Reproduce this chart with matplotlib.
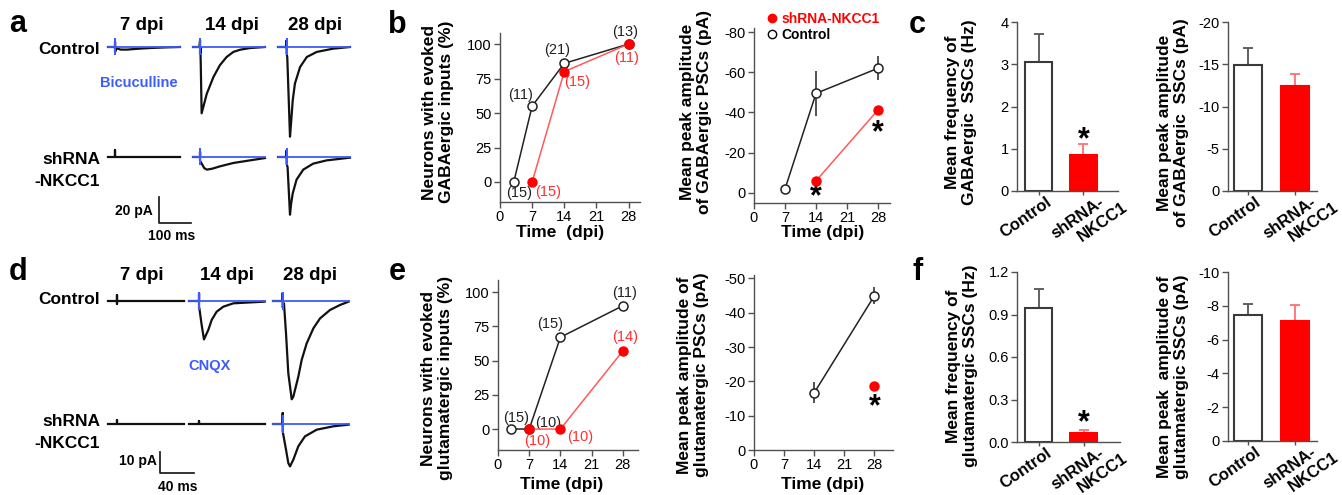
import matplotlib
matplotlib.use('Agg')
import matplotlib.pyplot as plt
from matplotlib.lines import Line2D
import matplotlib.transforms as mtransforms

plt.rcParams['font.family'] = ['Liberation Sans', 'DejaVu Sans']
plt.rcParams['axes.unicode_minus'] = False

# ----------------------------- DATA -----------------------------
# panel a traces (ms, pA) GABAergic
a_t_ctrl7 = [0, 22, 22, 22, 26, 40, 60, 90, 130, 180, 225]
a_i_ctrl7 = [0, 0, 4, -4, -1, -2, -2, -1.4, -0.8, -0.3, 0]
a_t_ctrl14 = [0, 20, 22, 22, 23, 24, 27, 43, 64, 84, 105, 126, 147, 178, 225]
a_i_ctrl14 = [0, 0, 5, -5, 0, -10, -51, -36, -23, -14, -7.7, -3.8, -2.1, -0.8, 0]
a_t_ctrl28 = [0, 27, 27, 27, 29, 37.5, 41, 46, 53, 69, 90, 121, 172, 225]
a_i_ctrl28 = [0, 0, 5, -5, -8, -69, -58, -41, -28, -15.4, -7.7, -3.8, -1.3, 0]
a_t_sh7 = [0, 22, 22, 22, 225]
a_i_sh7 = [0, 0, 5.5, 0, 0]
a_t_sh14 = [0, 22, 22, 22, 27, 35, 43, 60, 84, 126, 178, 225]
a_i_sh14 = [0, 0, 4, -3, -5, -8.5, -9.7, -9, -7.2, -4.6, -2.6, -0.8]
a_t_sh28 = [0, 27, 27, 27, 30, 37.5, 41, 46, 58, 79, 110, 152, 225]
a_i_sh28 = [0, 0, 5, -5, -8, -44.4, -36, -28, -17.4, -9.7, -5.1, -2.6, -0.5]
a_t_blue = [0, 22, 22, 22, 22, 225]
a_t_blue28 = [0, 27, 27, 27, 27, 225]
a_i_blue = [0, 0, 6, -5, 0, 0]

# panel d traces (ms, pA) glutamatergic
d_t_ctrl7 = [0, 10, 10, 10, 10, 89]
d_i_ctrl7 = [0, 0, 3, -1.5, 0, 0]
d_t_ctrl14 = [0, 11.8, 11.8, 11.8, 12.2, 14.9, 17.6, 22.7, 26.7, 32.5, 40.4, 52.2, 89]
d_i_ctrl14 = [0, 0, 3.7, -3.5, -3.5, -11.4, -18.3, -13.8, -9, -5.1, -2.7, -1.1, -0.3]
d_t_ctrl28 = [0, 11.4, 11.4, 11.4, 12.9, 15.3, 18, 22, 23.9, 29.8, 33.7, 39.6, 47.5, 55.3, 67, 78.8, 89]
d_i_ctrl28 = [0, 0, 3.7, -3, -1.1, -15.4, -34.4, -46.8, -45.6, -36, -28.1, -20.2, -13, -8.3, -4.3, -1.9, -0.3]
d_t_sh7 = [0, 10, 10, 10, 89]
d_i_sh7 = [0, 0, 2, 0, 0]
d_t_sh14 = [0, 11.8, 11.8, 11.8, 89]
d_i_sh14 = [0, 0, 1.6, 0, 0]
d_t_sh28 = [0, 11.4, 11.4, 11.4, 15.3, 18, 20, 23.9, 29.8, 37.6, 51.4, 71, 89]
d_i_sh28 = [0, 0, 5.2, -3.5, -12.2, -18.6, -20.2, -17, -10.6, -5.9, -2.7, -1.1, -0.3]
d_t_blue = [0, 11.6, 11.6, 11.6, 11.6, 89]
d_i_blue = [0, 0, 4, -4, 0, 0]

dpi_headers = ['7 dpi', '14 dpi', '28 dpi']

# panel b
time_ctrl_gaba_pct = [3, 7, 14, 28]
ctrl_gaba_pct = [0, 55, 86, 100]
ctrl_gaba_n = ['(15)', '(11)', '(21)', '(13)']
time_sh_gaba_pct = [7, 14, 28]
sh_gaba_pct = [0, 80, 100]
sh_gaba_n = ['(15)', '(15)', '(11)']

time_ctrl_gaba_amp = [7, 14, 28]
ctrl_gaba_amp = [-2, -49.5, -62]
ctrl_gaba_amp_err = [1, 11, 6]
time_sh_gaba_amp = [14, 28]
sh_gaba_amp = [-6, -41.3]
sh_gaba_amp_err = [1, 2]

# panel c
groups = ['Control', 'shRNA-', 'NKCC1']   # second group label is written on two lines
gaba_freq = [3.06, 0.85]
gaba_freq_err = [0.65, 0.26]
gaba_sscamp = [-14.9, -12.4]
gaba_sscamp_err = [2.05, 1.5]

# panel e
time_ctrl_glu_pct = [3, 7, 14, 28]
ctrl_glu_pct = [0, 0, 67, 90]
ctrl_glu_n = ['(15)', '(10)', '(15)', '(11)']
time_sh_glu_pct = [7, 14, 28]
sh_glu_pct = [0, 0, 57]
sh_glu_n = ['(10)', '(10)', '(14)']

time_ctrl_glu_amp = [14, 28]
ctrl_glu_amp = [-16.7, -45]
ctrl_glu_amp_err = [3, 2.5]
time_sh_glu_amp = [28]
sh_glu_amp = [-18.6]
sh_glu_amp_err = [1]

# panel f
glu_freq = [0.948, 0.064]
glu_freq_err = [0.135, 0.018]
glu_sscamp = [-7.44, -7.1]
glu_sscamp_err = [0.65, 0.93]

# ----------------------------- LAYOUT -----------------------------
W, H = 1342, 495
fig = plt.figure(figsize=(W / 100, H / 100), dpi=100)
fig.patch.set_facecolor('white')

RED = '#ff0000'
RED_LINE = '#ff5a5a'
RED_TXT = '#ff3030'
BLUE = '#3d5cff'
SPINE = '#505050'
TICK_FS = 10.5
LAB_FS = 12.5


def px_axes(x0, y0, x1, y1):
    return fig.add_axes([x0 / W, 1 - y1 / H, (x1 - x0) / W, (y1 - y0) / H])


def ftext(x, y, s, **kw):
    return fig.text(x / W, 1 - y / H, s, **kw)


def style(ax):
    for s in ['top', 'right']:
        ax.spines[s].set_visible(False)
    for s in ['left', 'bottom']:
        ax.spines[s].set_color(SPINE)
        ax.spines[s].set_linewidth(1.0)
    ax.tick_params(direction='out', length=4, width=1, color=SPINE,
                   labelsize=TICK_FS, pad=2)
    ax.patch.set_alpha(0)


def trace_axes(x0, base_y, width_px, xmax, ppu, ytop, ybot):
    top = base_y - ytop * ppu
    bot = base_y - ybot * ppu
    ax = px_axes(x0, top, x0 + width_px, bot)
    ax.set_xlim(0, xmax)
    ax.set_ylim(ybot, ytop)
    ax.axis('off')
    return ax

# ---------------- panel a ----------------
ftext(18, 24, 'a', fontsize=22, fontweight='bold', ha='center', va='center')
for cx, s in zip([142, 232, 315], dpi_headers):
    ftext(cx, 25, s, fontsize=13.5, fontweight='bold', ha='center', va='center')
ftext(100, 50, 'Control', fontsize=12.5, fontweight='bold', ha='right', va='center')
ftext(100, 159, 'shRNA', fontsize=12.5, fontweight='bold', ha='right', va='center')
ftext(100, 182, '-NKCC1', fontsize=12.5, fontweight='bold', ha='right', va='center')
ftext(139, 83, 'Bicuculline', fontsize=10.5, fontweight='bold', color=BLUE,
      ha='center', va='center')

a_cols = [108, 193, 278]
a_ctrl = [(a_t_ctrl7, a_i_ctrl7, a_t_blue), (a_t_ctrl14, a_i_ctrl14, a_t_blue),
          (a_t_ctrl28, a_i_ctrl28, a_t_blue28)]
a_sh = [(a_t_sh7, a_i_sh7, None), (a_t_sh14, a_i_sh14, a_t_blue),
        (a_t_sh28, a_i_sh28, a_t_blue28)]
for x0, (t, i, tb) in zip(a_cols, a_ctrl):
    ax = trace_axes(x0, 47, 72, 225, 1.3, 10, -75)
    ax.plot(t, i, color='#111111', lw=1.6, clip_on=False)
    ax.plot(tb, a_i_blue, color=BLUE, lw=1.3, clip_on=False)
for k, (x0, (t, i, tb)) in enumerate(zip(a_cols, a_sh)):
    ax = trace_axes(x0, 157, 72, 225, 1.3, 10, -75)
    ax.plot(t, i, color='#111111', lw=1.6, clip_on=False)
    if tb is not None:
        ax.plot(tb, a_i_blue, color=BLUE, lw=1.3, clip_on=False)
    if k == 0:
        # scale bar 20 pA / 100 ms
        ax.plot([159, 159, 259], [-30.8, -50.8, -50.8], color='#111111', lw=1.2,
                clip_on=False)
ftext(153, 211, '20 pA', fontsize=10, fontweight='bold', ha='right', va='center')
ftext(172, 236, '100 ms', fontsize=10, fontweight='bold', ha='center', va='center')

# ---------------- panel d ----------------
ftext(18, 272, 'd', fontsize=22, fontweight='bold', ha='center', va='center')
for cx, s in zip([142, 227, 310], dpi_headers):
    ftext(cx, 275, s, fontsize=13.5, fontweight='bold', ha='center', va='center')
ftext(100, 299, 'Control', fontsize=12.5, fontweight='bold', ha='right', va='center')
ftext(100, 421, 'shRNA', fontsize=12.5, fontweight='bold', ha='right', va='center')
ftext(100, 443, '-NKCC1', fontsize=12.5, fontweight='bold', ha='right', va='center')
ftext(210, 366, 'CNQX', fontsize=10.5, fontweight='bold', color=BLUE,
      ha='center', va='center')

d_cols = [108, 189, 273]
d_ctrl = [(d_t_ctrl7, d_i_ctrl7, False), (d_t_ctrl14, d_i_ctrl14, True),
          (d_t_ctrl28, d_i_ctrl28, True)]
d_sh = [(d_t_sh7, d_i_sh7, False), (d_t_sh14, d_i_sh14, False),
        (d_t_sh28, d_i_sh28, True)]
for x0, (t, i, b) in zip(d_cols, d_ctrl):
    ax = trace_axes(x0, 301, 76, 89.4, 2.1, 8, -50)
    ax.plot(t, i, color='#111111', lw=1.6, clip_on=False)
    if b:
        ax.plot(d_t_blue, d_i_blue, color=BLUE, lw=1.3, clip_on=False)
for k, (x0, (t, i, b)) in enumerate(zip(d_cols, d_sh)):
    ax = trace_axes(x0, 424, 76, 89.4, 2.1, 8, -50)
    ax.plot(t, i, color='#111111', lw=1.6, clip_on=False)
    if b:
        ax.plot(d_t_blue, d_i_blue, color=BLUE, lw=1.3, clip_on=False)
    if k == 0:
        ax.plot([61, 61, 101], [-13.3, -23.3, -23.3], color='#111111', lw=1.2,
                clip_on=False)
ftext(157, 461, '10 pA', fontsize=10, fontweight='bold', ha='right', va='center')
ftext(178, 487, '40 ms', fontsize=10, fontweight='bold', ha='center', va='center')


# ---------------- percentage panels (b-left, e-left) ----------------
def pct_panel(box, xlim, ylim, tc, vc, nc, offc, ts, vs, ns, offs):
    ax = px_axes(*box)
    style(ax)
    ax.set_xlim(*xlim)
    ax.set_ylim(*ylim)
    ax.set_xticks([0, 7, 14, 21, 28])
    ax.set_yticks([0, 25, 50, 75, 100])
    ax.plot(tc, vc, color='#222222', lw=1.1, marker='o', ms=6.5, mfc='white',
            mec='#222222', mew=1.1, clip_on=False, zorder=3)
    ax.plot(ts, vs, color=RED_LINE, lw=1.1, marker='o', ms=6.5, mfc=RED,
            mec=RED, clip_on=False, zorder=4)
    for x, y, n, (dx, dy) in zip(tc, vc, nc, offc):
        ax.annotate(n, (x, y), xytext=(dx, dy), textcoords='offset pixels',
                    ha='center', va='center', fontsize=10.5, color='#222222',
                    annotation_clip=False)
    for x, y, n, (dx, dy) in zip(ts, vs, ns, offs):
        ax.annotate(n, (x, y), xytext=(dx, dy), textcoords='offset pixels',
                    ha='center', va='center', fontsize=10.5, color=RED_TXT,
                    annotation_clip=False)
    return ax

off_b_ctrl = [(5.5, -11.3), (-12, 11), (-7.6, 13.3), (-3.5, 12.3)]
off_b_sh = [(16, -9.7), (12.4, -10), (-2, -14.3)]
pct_panel((500, 33, 640, 202), (0, 30.5), (-14.5, 108),
          time_ctrl_gaba_pct, ctrl_gaba_pct, ctrl_gaba_n, off_b_ctrl,
          time_sh_gaba_pct, sh_gaba_pct, sh_gaba_n, off_b_sh)

off_e_ctrl = [(4.6, 10.7), (19, 6.3), (-10.4, 13.2), (2, 13)]
off_e_sh = [(7.5, -11.7), (19.6, -7.7), (2, 13.6)]
pct_panel((498, 280, 638, 450), (0, 31.4), (-15.3, 108.8),
          time_ctrl_glu_pct, ctrl_glu_pct, ctrl_glu_n, off_e_ctrl,
          time_sh_glu_pct, sh_glu_pct, sh_glu_n, off_e_sh)

ftext(397, 25, 'b', fontsize=22, fontweight='bold', ha='center', va='center')
ftext(397, 272, 'e', fontsize=22, fontweight='bold', ha='center', va='center')
ftext(438, 112, 'Neurons with evoked\nGABAergic inputs (%)', rotation=90,
      fontsize=LAB_FS, fontweight='bold', ha='center', va='center', linespacing=1.15)
ftext(437, 378, 'Neurons with evoked\nglutamatergic inputs (%)', rotation=90,
      fontsize=LAB_FS, fontweight='bold', ha='center', va='center', linespacing=1.15)
ftext(560, 233, 'Time  (dpi)', fontsize=LAB_FS, fontweight='bold', ha='center', va='center')
ftext(562, 485, 'Time (dpi)', fontsize=LAB_FS, fontweight='bold', ha='center', va='center')


# ---------------- amplitude panels (b-right, e-right) ----------------
def amp_panel(box, xlim, ylim, yticks, tc, vc, ec, ts, vs, es):
    ax = px_axes(*box)
    style(ax)
    ax.set_xlim(*xlim)
    ax.set_ylim(*ylim)
    ax.set_xticks([0, 7, 14, 21, 28])
    ax.set_yticks(yticks)
    ax.errorbar(tc, vc, yerr=ec, color='#222222', lw=1.1, marker='o', ms=6.5,
                mfc='white', mec='#222222', mew=1.1, elinewidth=1.1, capsize=0,
                clip_on=False, zorder=3)
    ax.errorbar(ts, vs, yerr=es, color=RED_LINE, lw=1.1, marker='o', ms=6.5,
                mfc=RED, mec=RED, ecolor=RED_LINE, elinewidth=1.1, capsize=0,
                clip_on=False, zorder=4)
    return ax

axb2 = amp_panel((754, 28, 890, 203), (0, 30.7), (5, -82), [0, -20, -40, -60, -80],
                 time_ctrl_gaba_amp, ctrl_gaba_amp, ctrl_gaba_amp_err,
                 time_sh_gaba_amp, sh_gaba_amp, sh_gaba_amp_err)
axb2.text(14, 2.0, '*', fontsize=22, fontweight='bold', ha='center', va='center',
          clip_on=False)
axb2.text(28, -29.5, '*', fontsize=22, fontweight='bold', ha='center', va='center')
handles = [Line2D([], [], marker='o', ls='none', mfc=RED, mec=RED, ms=6),
           Line2D([], [], marker='o', ls='none', mfc='white', mec='black', ms=6)]
leg = axb2.legend(handles, ['shRNA-NKCC1', 'Control'], loc='upper left',
                  bbox_to_anchor=(0.11, 1.09), frameon=False, handlelength=0.5,
                  handletextpad=0.4, labelspacing=0.15, borderaxespad=0, borderpad=0,
                  prop=dict(weight='bold', size=10))
leg.get_texts()[0].set_color(RED)

axe2 = amp_panel((754, 275, 893, 450), (0, 32.3), (0, -51), [0, -10, -20, -30, -40, -50],
                 time_ctrl_glu_amp, ctrl_glu_amp, ctrl_glu_amp_err,
                 time_sh_glu_amp, sh_glu_amp, sh_glu_amp_err)
axe2.text(28, -12.5, '*', fontsize=22, fontweight='bold', ha='center', va='center')

ftext(696, 112, 'Mean peak amplitude\nof GABAergic PSCs (pA)', rotation=90,
      fontsize=LAB_FS, fontweight='bold', ha='center', va='center', linespacing=1.15)
ftext(693, 375, 'Mean peak amplitude of\nglutamatergic PSCs (pA)', rotation=90,
      fontsize=LAB_FS, fontweight='bold', ha='center', va='center', linespacing=1.15)
ftext(823, 233, 'Time (dpi)', fontsize=LAB_FS, fontweight='bold', ha='center', va='center')
ftext(823, 485, 'Time (dpi)', fontsize=LAB_FS, fontweight='bold', ha='center', va='center')


# ---------------- bar panels (c, f) ----------------
# (bar index, pixels right, pixels down) for each piece of group label
LABEL_POS = [(0, 7, 3), (1, 15, 3), (1, 38, 8)]


def bar_panel(box, xlim, vals, errs, ylim, yticks, yticklabels=None, star=None):
    ax = px_axes(*box)
    style(ax)
    xs = [0, 1]
    ax.bar(xs, vals, width=0.6, color=['white', RED], edgecolor=['#3a3a3a', RED],
           linewidth=1.5, zorder=2)
    for x, v, e, c in zip(xs, vals, errs, ['#555555', '#ff7070']):
        yerr = [[0], [e]] if v > 0 else [[e], [0]]
        ax.errorbar([x], [v], yerr=yerr, color=c, elinewidth=1.3, capsize=3.5,
                    capthick=1.3, fmt='none', zorder=1)
    ax.set_xlim(*xlim)
    ax.set_ylim(*ylim)
    ax.set_yticks(yticks)
    if yticklabels is not None:
        ax.set_yticklabels(yticklabels)
    ax.set_xticks(xs)
    ax.set_xticklabels([])
    ax.tick_params(axis='x', length=3)
    base = ax.get_xaxis_transform()
    for s, (xi, dx, dy) in zip(groups, LABEL_POS):
        off = mtransforms.ScaledTranslation(dx / 100, -dy / 100, fig.dpi_scale_trans)
        ax.text(xs[xi], 0, s, transform=base + off, rotation=35, ha='right',
                va='top', rotation_mode='anchor', fontweight='bold', fontsize=12,
                clip_on=False)
    if star is not None:
        ax.text(1, star, '*', fontsize=22, fontweight='bold', ha='center', va='center')
    return ax

bar_panel((1017, 22, 1118, 191), (-0.478, 1.767), gaba_freq, gaba_freq_err,
          (0, 4), [0, 1, 2, 3, 4], star=1.2)
bar_panel((1228, 22, 1317, 191), (-0.426, 1.468), gaba_sscamp, gaba_sscamp_err,
          (0, -20), [0, -5, -10, -15, -20])
bar_panel((1017, 272, 1120, 442), (-0.478, 1.81), glu_freq, glu_freq_err,
          (0, 1.2), [0, 0.3, 0.6, 0.9, 1.2], ['0.0', '0.3', '0.6', '0.9', '1.2'],
          star=0.135)
bar_panel((1228, 272, 1317, 441), (-0.426, 1.468), glu_sscamp, glu_sscamp_err,
          (0, -10), [0, -2, -4, -6, -8, -10])

ftext(917, 25, 'c', fontsize=22, fontweight='bold', ha='center', va='center')
ftext(918, 272, 'f', fontsize=22, fontweight='bold', ha='center', va='center')
ftext(961, 112, 'Mean frequency of\nGABAergic  SSCs (Hz)', rotation=90,
      fontsize=LAB_FS, fontweight='bold', ha='center', va='center', linespacing=1.15)
ftext(1173, 123, 'Mean peak amplitude\nof GABAergic  SSCs (pA)', rotation=90,
      fontsize=LAB_FS, fontweight='bold', ha='center', va='center', linespacing=1.15)
ftext(962, 366, 'Mean frequency of\nglutamatergic SSCs (Hz)', rotation=90,
      fontsize=LAB_FS, fontweight='bold', ha='center', va='center', linespacing=1.15)
ftext(1173, 377, 'Mean peak  amplitude of\nglutamatergic SSCs (pA)', rotation=90,
      fontsize=LAB_FS, fontweight='bold', ha='center', va='center', linespacing=1.15)

fig.savefig('out.png', dpi=100)
